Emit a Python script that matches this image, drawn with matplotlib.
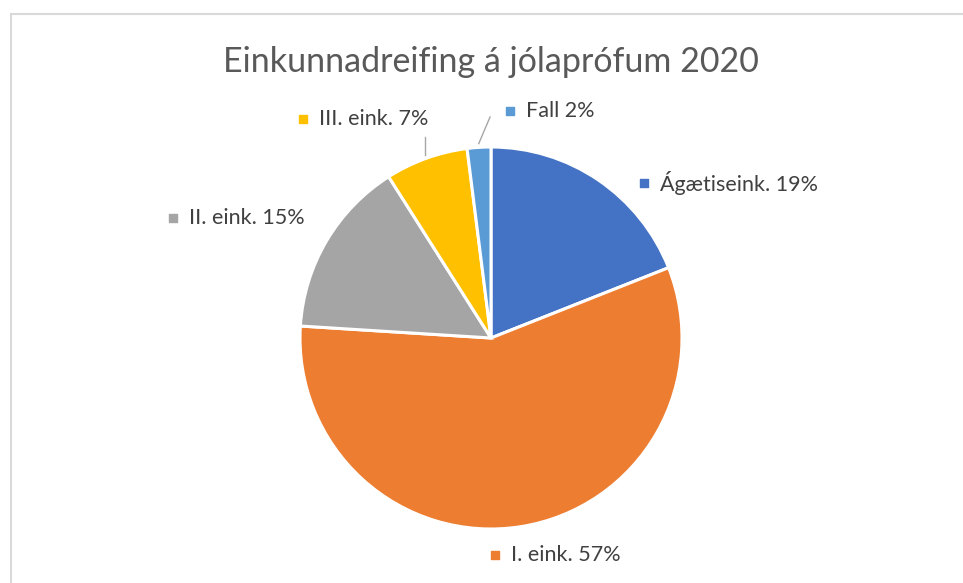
import matplotlib
matplotlib.use("Agg")
import numpy as np
import matplotlib.pyplot as plt
from matplotlib.lines import Line2D

# --- Data ---
categories = ["Ágætiseink.", "I. eink.", "II. eink.", "III. eink.", "Fall"]
percent = [19, 57, 15, 7, 2]
colors = ["#4472C4", "#ED7D31", "#A5A5A5", "#FFC000", "#5B9BD5"]
title = "Einkunnadreifing á jólaprófum 2020"

# --- Layout (pie radius = 1 in data units) ---
# marker position of each data label
label_pos = [(0.80, 0.81), (0.02, -1.135), (-1.665, 0.63), (-0.985, 1.147), (0.10, 1.19)]
# end of leader line (None = no leader)
leader_end = [None, None, None, (None, 1.052), (-0.005, 1.157)]

W, H, DPI = 963, 583, 100
cx, cy, rad = 491, 338, 191  # pixel centre and radius

plt.rcParams['font.family'] = ['Lato', 'DejaVu Sans']
fig = plt.figure(figsize=(W / DPI, H / DPI), dpi=DPI)
ax = fig.add_axes([0, 0, 1, 1])

wedges, _ = ax.pie(percent, colors=colors, startangle=90, counterclock=False,
                   radius=1.0, center=(0, 0),
                   wedgeprops=dict(edgecolor="white", linewidth=2.2))

ax.set_xlim(-cx / rad, (W - cx) / rad)
ax.set_ylim(-(H - cy) / rad, cy / rad)
ax.set_aspect('equal')
ax.axis('off')

# data labels with legend key square
for w, cat, val, col, pos, lead in zip(wedges, categories, percent, colors, label_pos, leader_end):
    ax.scatter([pos[0]], [pos[1]], marker='s', s=38, color=col, zorder=5)
    ax.text(pos[0] + 0.085, pos[1], f"{cat} {val}%", fontsize=15.5, color="#404040",
            ha='left', va='center')
    if lead is not None:
        mid = np.deg2rad((w.theta1 + w.theta2) / 2)
        x0, y0 = 1.02 * np.cos(mid), 1.02 * np.sin(mid)
        x1 = x0 if lead[0] is None else lead[0]
        ax.plot([x0, x1], [y0, lead[1]], color="#A6A6A6", linewidth=1.0)

fig.text(cx / W, 1 - 62 / H, title, fontsize=24.5, color="#595959", ha='center', va='center')

# chart area border (top and left edges visible)
bx, by = 11 / W, 1 - 14 / H
fig.add_artist(Line2D([bx, bx], [0, by], color="#D9D9D9", linewidth=1.5))
fig.add_artist(Line2D([bx, 1], [by, by], color="#D9D9D9", linewidth=1.5))

fig.savefig("out.png", dpi=DPI, facecolor="white")
